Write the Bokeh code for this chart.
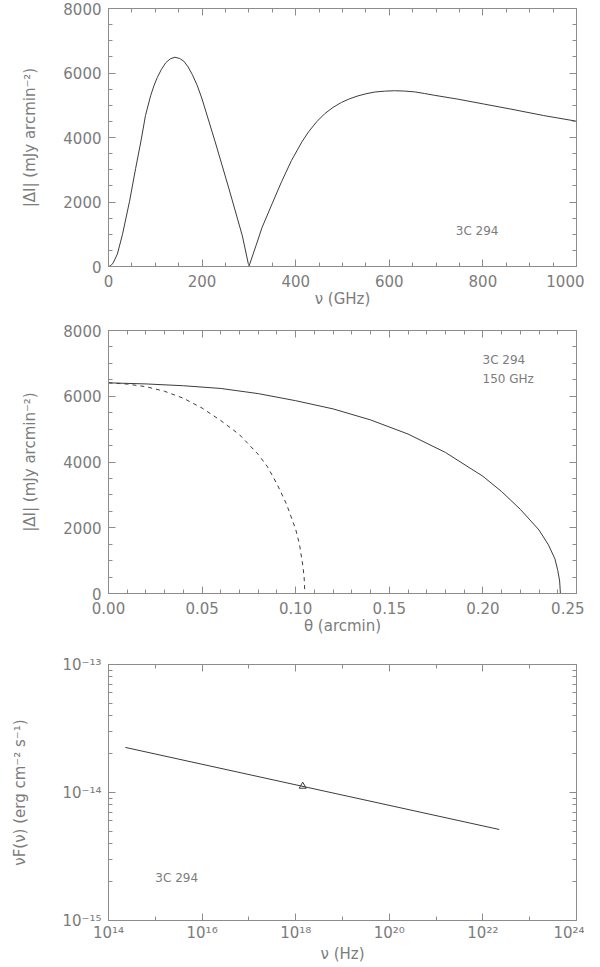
from bokeh.plotting import figure
from bokeh.layouts import column
from bokeh.models import Range1d, FixedTicker, LinearAxis, CustomJSTickFormatter, NumeralTickFormatter
from bokeh.embed import file_html
from bokeh.resources import INLINE
from bokeh.core.properties import value

# ---------------- data ----------------
# Panel 1: |dI| vs frequency (GHz)
nu_ghz = [0, 5, 10, 19, 30, 45, 58, 69, 79, 90, 97, 104, 113, 122, 132, 142, 152,
          161, 170, 179, 190, 200, 228, 257, 286, 300, 315, 328, 350, 370, 391,
          413, 427, 445, 462, 480, 498, 515, 533, 550, 569, 590, 611, 632, 654,
          675, 696, 746, 803, 860, 930, 1000]
dI_nu = [0, 28, 110, 389, 1002, 2023, 3043, 3861, 4680, 5293, 5600, 5854, 6110,
         6313, 6440, 6488, 6450, 6365, 6190, 5955, 5600, 5190, 3861, 2431, 950, 0,
         640, 1205, 1960, 2636, 3287, 3859, 4167, 4491, 4738, 4936, 5089, 5200,
         5290, 5355, 5410, 5437, 5450, 5440, 5415, 5365, 5310, 5190, 5035, 4880,
         4680, 4505]

# Panel 2: |dI| vs angle (arcmin), 150 GHz
theta_solid = [0.0, 0.02, 0.04, 0.06, 0.08, 0.10, 0.12, 0.14, 0.16, 0.18, 0.20,
               0.21, 0.22, 0.23, 0.235, 0.2385, 0.2400, 0.2410, 0.2414]
dI_solid = [6408, 6375, 6320, 6237, 6080, 5865, 5615, 5280, 4850, 4290, 3566,
            3100, 2560, 1930, 1480, 1050, 700, 380, 0]
theta_dash = [0.0, 0.01, 0.02, 0.03, 0.04, 0.05, 0.06, 0.07, 0.08, 0.085, 0.09,
              0.095, 0.10, 0.102, 0.1038, 0.1045, 0.1049]
dI_dash = [6408, 6370, 6290, 6150, 5940, 5640, 5260, 4830, 4230, 3850, 3330,
           2730, 1950, 1500, 852, 500, 0]

# Panel 3: nuF(nu) power law and one point
nu_hz_line = [10**14.36, 10**22.35]
nuF_line = [2.25e-14, 5.14e-15]
nu_hz_point = [10**18.15]
nuF_point = [1.12e-14]

# tick values
x1_ticks = [0, 200, 400, 600, 800, 1000]
x1_minor = [i * 50 for i in range(21)]
y12_ticks = [0, 2000, 4000, 6000, 8000]
y12_minor = [i * 500 for i in range(17)]
x2_ticks = [0.0, 0.05, 0.10, 0.15, 0.20, 0.25]
x2_minor = [i * 0.01 for i in range(26)]
x3_ticks = [1e14, 1e16, 1e18, 1e20, 1e22, 1e24]
x3_minor = [1e15, 1e17, 1e19, 1e21, 1e23]
y3_ticks = [1e-15, 1e-14, 1e-13]
y3_minor = [k * 1e-15 for k in range(2, 10)] + [k * 1e-14 for k in range(2, 10)]

labels = ["3C 294", "3C 294", "150 GHz", "3C 294"]

# ---------------- style ----------------
FONT = "DejaVu Sans"
TXT = "#7c7c7c"
AX = "#8c8c8c"
LINE = "#3c3c3c"

SUP = ("const s={'-':'\u207b','0':'\u2070','1':'\u00b9','2':'\u00b2','3':'\u00b3',"
       "'4':'\u2074','5':'\u2075','6':'\u2076','7':'\u2077','8':'\u2078','9':'\u2079'};"
       "const e=Math.round(Math.log10(tick));"
       "return '10'+String(e).split('').map(c=>s[c]).join('');")


def empty_axis(ticks, minor):
    ax = LinearAxis(ticker=FixedTicker(ticks=ticks, minor_ticks=minor),
                    formatter=CustomJSTickFormatter(code="return ''"))
    ax.axis_line_color = None
    ax.major_tick_in = 7
    ax.major_tick_out = 0
    ax.minor_tick_in = 4
    ax.minor_tick_out = 0
    ax.major_tick_line_color = AX
    ax.minor_tick_line_color = AX
    ax.major_label_standoff = 0
    ax.major_label_text_font_size = "1px"
    return ax


def style(p, xt, xm, yt, ym, xlab, ylab, xfmt, yfmt, ylab_standoff, xlab_standoff=8):
    p.outline_line_color = AX
    p.outline_line_width = 1
    p.xgrid.visible = False
    p.ygrid.visible = False
    for ax, t, m, f in ((p.xaxis[0], xt, xm, xfmt), (p.yaxis[0], yt, ym, yfmt)):
        ax.ticker = FixedTicker(ticks=t, minor_ticks=m)
        if f is not None:
            ax.formatter = f
        ax.axis_line_color = AX
        ax.major_tick_line_color = AX
        ax.minor_tick_line_color = AX
        ax.major_tick_in = 7
        ax.major_tick_out = 0
        ax.minor_tick_in = 4
        ax.minor_tick_out = 0
        ax.major_label_text_font = FONT
        ax.major_label_text_font_size = "15px"
        ax.major_label_text_color = TXT
        ax.axis_label_text_font = FONT
        ax.axis_label_text_font_size = "15px"
        ax.axis_label_text_font_style = "normal"
        ax.axis_label_text_color = TXT
    p.xaxis[0].axis_label = xlab
    p.yaxis[0].axis_label = ylab
    p.xaxis[0].major_label_standoff = xlab_standoff
    p.xaxis[0].axis_label_standoff = 0
    p.yaxis[0].major_label_standoff = 7
    p.yaxis[0].axis_label_standoff = ylab_standoff
    p.add_layout(empty_axis(xt, xm), "above")
    p.add_layout(empty_axis(yt, ym), "right")


def add_text(p, x, y, t):
    p.text(x=x, y=y, text=t, text_font=value(FONT), text_font_size="12px",
           text_color=TXT, text_align="left", text_baseline="middle")


# ---------------- panel 1 ----------------
p1 = figure(width=584, height=310, output_backend="svg", toolbar_location=None,
            x_range=Range1d(0, 1000), y_range=Range1d(0, 8000),
            min_border_left=106, min_border_right=8, min_border_top=8, min_border_bottom=44)
p1.line(nu_ghz, dI_nu, line_color=LINE, line_width=1)
add_text(p1, [742], [1100], [labels[0]])
style(p1, x1_ticks, x1_minor, y12_ticks, y12_minor, "\u03bd (GHz)",
      "|\u0394I| (mJy arcmin\u207b\u00b2)", None, None, 21)

# ---------------- panel 2 ----------------
p2 = figure(width=584, height=327, output_backend="svg", toolbar_location=None,
            x_range=Range1d(0, 0.25), y_range=Range1d(0, 8000),
            min_border_left=106, min_border_right=6, min_border_top=20, min_border_bottom=44)
p2.line(theta_solid, dI_solid, line_color=LINE, line_width=1)
p2.line(theta_dash, dI_dash, line_color=LINE, line_width=1, line_dash="4 4")
add_text(p2, [0.1998, 0.1998], [7090, 6510], labels[1:3])
style(p2, x2_ticks, x2_minor, y12_ticks, y12_minor, "\u03b8 (arcmin)",
      "|\u0394I| (mJy arcmin\u207b\u00b2)", NumeralTickFormatter(format="0.00"), None, 21)

# ---------------- panel 3 ----------------
p3 = figure(width=584, height=329, output_backend="svg", toolbar_location=None,
            x_axis_type="log", y_axis_type="log",
            x_range=Range1d(1e14, 1e24), y_range=Range1d(1e-15, 1e-13),
            min_border_left=108, min_border_right=8, min_border_top=27, min_border_bottom=46)
p3.line(nu_hz_line, nuF_line, line_color=LINE, line_width=1)
p3.scatter(nu_hz_point, nuF_point, marker="triangle", size=7, fill_color=None,
           line_color=LINE, line_width=1)
add_text(p3, [10**15.0], [2.13e-15], [labels[3]])
style(p3, x3_ticks, x3_minor, y3_ticks, y3_minor, "\u03bd (Hz)",
      "\u03bdF(\u03bd) (erg cm\u207b\u00b2 s\u207b\u00b9)",
      CustomJSTickFormatter(code=SUP), CustomJSTickFormatter(code=SUP), 30, 3)

layout = column(p1, p2, p3, spacing=0)
open("out.html", "w").write(file_html(layout, INLINE))
